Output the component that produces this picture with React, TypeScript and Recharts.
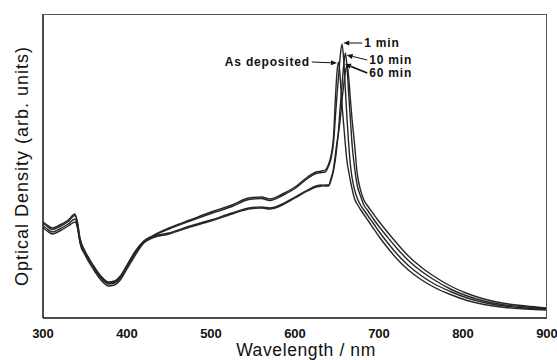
import { LineChart, Line, XAxis, YAxis, ReferenceLine } from "recharts";

// wavelength grid (nm) shared by the four spectra
const wavelength = [
  300, 305, 311, 320, 330, 338, 341, 344, 350, 356,
  362, 370, 378, 385, 392, 400, 410, 420, 430, 450,
  475, 500, 525, 545, 560, 570, 585, 600, 615, 625,
  632, 636, 640, 643, 646, 648, 650, 652, 654, 656,
  658, 660, 662, 664, 666, 668, 671, 674, 678, 682,
  687, 693, 700, 710, 722, 735, 750, 765, 785, 805,
  825, 850, 875, 900,
];

const asDeposited = [
  0.96, 0.93, 0.9, 0.93, 0.98, 1.04, 0.96, 0.8, 0.67, 0.58,
  0.5, 0.41, 0.36, 0.37, 0.42, 0.53, 0.67, 0.77, 0.82, 0.9,
  0.98, 1.06, 1.13, 1.2, 1.21, 1.19, 1.24, 1.31, 1.41, 1.46,
  1.47, 1.48, 1.54, 1.63, 1.83, 2.18, 2.46, 2.56, 2.38, 2.13,
  1.93, 1.73, 1.56, 1.46, 1.37, 1.29, 1.19, 1.14, 1.085, 1.035,
  0.975, 0.9, 0.815, 0.705, 0.585, 0.48, 0.385, 0.31, 0.235, 0.175,
  0.135, 0.105, 0.09, 0.08,
];

const min1 = [
  0.945, 0.915, 0.885, 0.915, 0.965, 1.025, 0.95, 0.79, 0.66, 0.57,
  0.49, 0.4, 0.35, 0.36, 0.41, 0.52, 0.66, 0.765, 0.815, 0.89,
  0.97, 1.045, 1.115, 1.185, 1.195, 1.175, 1.225, 1.295, 1.395, 1.445,
  1.455, 1.46, 1.52, 1.6, 1.76, 2.0, 2.23, 2.43, 2.63, 2.74,
  2.58, 2.28, 1.98, 1.73, 1.53, 1.4, 1.28, 1.2, 1.13, 1.08,
  1.02, 0.95, 0.865, 0.755, 0.635, 0.525, 0.425, 0.345, 0.265, 0.2,
  0.155, 0.12, 0.1, 0.087,
];

const min10 = [
  0.92, 0.89, 0.86, 0.89, 0.94, 0.99, 0.92, 0.77, 0.65, 0.56,
  0.48, 0.39, 0.34, 0.35, 0.4, 0.51, 0.65, 0.76, 0.81, 0.85,
  0.92, 0.98, 1.05, 1.1, 1.11, 1.1, 1.14, 1.21, 1.28, 1.32,
  1.33, 1.32, 1.32, 1.38, 1.48, 1.58, 1.72, 1.9, 2.13, 2.33,
  2.53, 2.65, 2.5, 2.23, 1.98, 1.73, 1.5, 1.33, 1.22, 1.13,
  1.07, 0.995, 0.915, 0.81, 0.69, 0.575, 0.47, 0.385, 0.29, 0.22,
  0.17, 0.13, 0.11, 0.093,
];

const min60 = [
  0.9, 0.87, 0.84, 0.87, 0.92, 0.96, 0.9, 0.75, 0.63, 0.54,
  0.46, 0.37, 0.32, 0.33, 0.38, 0.49, 0.63, 0.75, 0.8, 0.84,
  0.91, 0.97, 1.04, 1.09, 1.1, 1.09, 1.13, 1.2, 1.27, 1.31,
  1.32, 1.33, 1.33, 1.4, 1.5, 1.63, 1.76, 1.86, 2.0, 2.18,
  2.33, 2.46, 2.53, 2.4, 2.18, 1.98, 1.73, 1.45, 1.28, 1.18,
  1.115, 1.045, 0.965, 0.86, 0.74, 0.62, 0.51, 0.42, 0.32, 0.245,
  0.19, 0.145, 0.12, 0.1,
];

const xTicks = [300, 400, 500, 600, 700, 800, 900];

// arrow labels near the peak: text, tail point, head point (nm, OD)
const noteText = ["As deposited", "1 min", "10 min", "60 min"];
const noteTail = [
  [620, 2.56],
  [680, 2.75],
  [686, 2.58],
  [686, 2.45],
];
const noteHead = [
  [650, 2.55],
  [657.5, 2.75],
  [661.5, 2.63],
  [659.5, 2.54],
];

const data = wavelength.map((w, i) => ({
  w,
  asDep: asDeposited[i],
  m1: min1[i],
  m10: min10[i],
  m60: min60[i],
}));

const FONT = "'Liberation Sans', Arial, sans-serif";
const LINE = "#262626";

// chart box: margins plus axis sizes fix the plot rectangle
const W = 557;
const H = 360;
const M_TOP = 14;
const M_RIGHT = 10;
const Y_AXIS_W = 43;
const X_AXIS_H = 42;

function Arrow(props: any) {
  const { x1, y1, x2, y2, text, thick } = props;
  const ang = Math.atan2(y2 - y1, x2 - x1);
  const c = Math.cos(ang);
  const s = Math.sin(ang);
  const L = 6;
  const HW = 2.6;
  const bx = x2 - L * c;
  const by = y2 - L * s;
  const leftSide = x1 < x2;
  return (
    <g>
      <line x1={x1} y1={y1} x2={bx} y2={by} stroke="#111" strokeWidth={thick ? 1.8 : 1} />
      <polygon
        points={`${x2},${y2} ${bx - HW * s},${by + HW * c} ${bx + HW * s},${by - HW * c}`}
        fill="#111"
      />
      <text
        x={leftSide ? x1 - 2 : x1 + 2}
        y={y1}
        dy="0.36em"
        textAnchor={leftSide ? "end" : "start"}
        fontFamily={FONT}
        fontWeight="bold"
        fontSize={12}
        letterSpacing={0.8}
        fill="#111"
      >
        {text}
      </text>
    </g>
  );
}

export default function App() {
  return (
    <div style={{ position: "absolute", left: 0, top: 0, width: W, height: H, background: "#fff" }}>
      <LineChart
        width={W}
        height={H}
        data={data}
        margin={{ top: M_TOP, right: M_RIGHT, bottom: 0, left: 0 }}
      >
        <XAxis
          dataKey="w"
          type="number"
          domain={[300, 900]}
          ticks={xTicks}
          allowDataOverflow
          height={X_AXIS_H}
          tickSize={0}
          tickMargin={11}
          axisLine={{ stroke: "#111", strokeWidth: 1.5 }}
          tick={{ fill: "#111", fontFamily: FONT, fontWeight: "bold", fontSize: 13 }}
          label={{
            value: "Wavelength / nm",
            position: "insideBottom",
            offset: 4,
            dx: 11,
            style: { fill: "#111", fontFamily: FONT, fontSize: 17.5, letterSpacing: 0.6 },
          }}
        />
        <YAxis
          type="number"
          domain={[0, 3.04]}
          allowDataOverflow
          width={Y_AXIS_W}
          tick={false}
          tickLine={false}
          axisLine={{ stroke: "#111", strokeWidth: 1.5 }}
          label={{
            value: "Optical Density (arb. units)",
            angle: -90,
            position: "insideLeft",
            offset: 22,
            style: { textAnchor: "middle", fill: "#111", fontFamily: FONT, fontSize: 18, letterSpacing: 1 },
          }}
        />
        <Line type="monotone" dataKey="asDep" stroke={LINE} strokeWidth={1.4} dot={false} isAnimationActive={false} />
        <Line type="monotone" dataKey="m1" stroke={LINE} strokeWidth={1.4} dot={false} isAnimationActive={false} />
        <Line type="monotone" dataKey="m10" stroke={LINE} strokeWidth={1.4} dot={false} isAnimationActive={false} />
        <Line type="monotone" dataKey="m60" stroke={LINE} strokeWidth={1.4} dot={false} isAnimationActive={false} />
        {noteText.map((t, i) => (
          <ReferenceLine
            key={t}
            ifOverflow="visible"
            segment={[
              { x: noteTail[i][0], y: noteTail[i][1] },
              { x: noteHead[i][0], y: noteHead[i][1] },
            ]}
            shape={(p: any) => <Arrow {...p} text={t} thick={i === 3} />}
          />
        ))}
      </LineChart>
      {/* thin top and right edges of the plot frame */}
      <div
        style={{
          position: "absolute",
          left: Y_AXIS_W,
          top: M_TOP,
          width: W - M_RIGHT - Y_AXIS_W,
          height: H - X_AXIS_H - M_TOP,
          boxSizing: "border-box",
          borderTop: "1px solid #555",
          borderRight: "1px solid #555",
          pointerEvents: "none",
        }}
      />
    </div>
  );
}
